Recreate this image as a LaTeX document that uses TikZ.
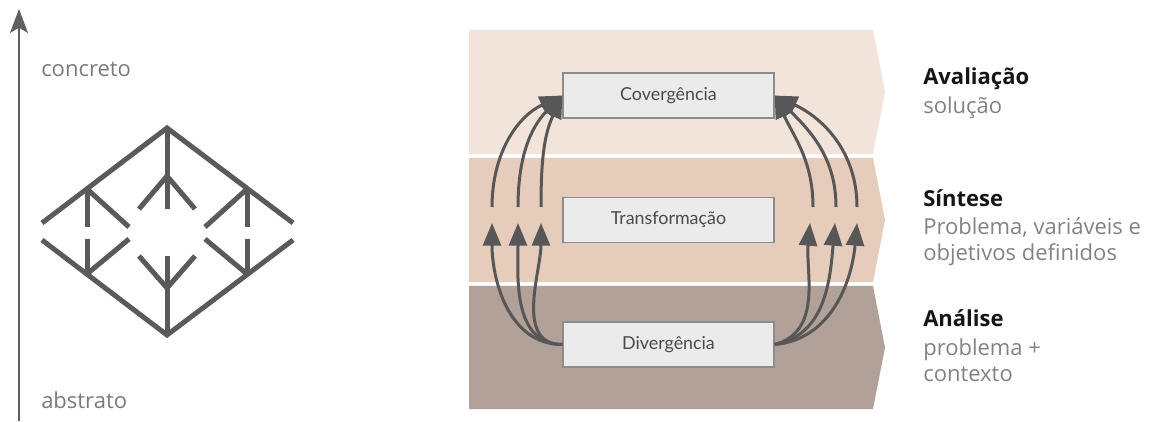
\documentclass[tikz,border=0pt]{standalone}
\usepackage{fontspec}
\setmainfont{Open Sans}
\newfontfamily\boxfont{Lato}
\usetikzlibrary{arrows.meta}

\definecolor{axisgray}{HTML}{606060}
\definecolor{treegray}{HTML}{5A5A5A}
\definecolor{labelgray}{HTML}{7A7A7A}
\definecolor{bandA}{HTML}{F3E4DB}
\definecolor{bandB}{HTML}{E6CDBB}
\definecolor{bandC}{HTML}{B2A199}
\definecolor{boxfill}{HTML}{EBEBEB}
\definecolor{boxline}{HTML}{8C8C8C}
\definecolor{boxtext}{HTML}{4A4A4A}
\definecolor{flowgray}{HTML}{575757}
\definecolor{headtext}{HTML}{151515}
\definecolor{bodytext}{HTML}{828282}

\begin{document}
\begin{tikzpicture}[x=0.75pt,y=0.75pt,
  stagebox/.style={draw=boxline, line width=1pt, fill=boxfill,
    minimum width=158.25pt, minimum height=33.75pt, inner sep=0pt,
    font=\boxfont\fontsize{13.4}{15}\selectfont, text=boxtext},
  flow/.style={draw=flowgray, line width=2.25pt,
    -{Triangle[length=17pt,width=13.5pt]}},
  tree/.style={draw=treegray, line width=3.75pt},
  sidelabel/.style={anchor=base west, inner sep=0pt, text=labelgray,
    font=\fontsize{16.5}{20}\selectfont},
  head/.style={anchor=base west, inner sep=0pt, text=headtext,
    font=\bfseries\fontsize{16.5}{20}\selectfont},
  body/.style={anchor=base west, inner sep=0pt, text=bodytext,
    font=\fontsize{16.5}{20}\selectfont},
]
\useasboundingbox (0,0) rectangle (1151,421);

% ---- vertical scale: abstract -> concrete
\coordinate (axisfoot) at (19,0);
\coordinate (axistop) at (19,412);
\draw[axisgray, line width=1.5pt, -{Stealth[length=18pt,width=13.5pt,inset=4pt]}]
  (axisfoot) -- (axistop);
\node[sidelabel] (conc) at (41,344) {concreto};
\node[sidelabel] (abst) at (41,13) {abstrato};

% ---- diamond of branching trees
\draw[tree] (42,198) -- (167,293) -- (293,198);
\draw[tree] (42,181) -- (167,86) -- (293,181);
% upper half
\draw[tree] (87,232) -- (87,194);
\draw[tree] (87,232) -- (129,194);
\draw[tree] (247,232) -- (247,194);
\draw[tree] (247,232) -- (205,194);
\draw[tree] (167,293) -- (167,212);
\draw[tree] (139,212) -- (167,245) -- (195,212);
% lower half
\draw[tree] (87,147) -- (87,182);
\draw[tree] (87,147) -- (129,182);
\draw[tree] (247,147) -- (247,182);
\draw[tree] (247,147) -- (205,182);
\draw[tree] (167,86) -- (167,165);
\draw[tree] (139,165) -- (167,133) -- (195,165);

% ---- stage bands
\fill[bandA] (469,391) -- (873,391) -- (885,329) -- (873,267) -- (469,267) -- cycle;
\fill[bandB] (469,263) -- (873,263) -- (885,201) -- (873,139) -- (469,139) -- cycle;
\fill[bandC] (469,135) -- (873,135) -- (885,73.5) -- (873,12) -- (469,12) -- cycle;

% ---- stage boxes
\node[stagebox] (cov) at (668.5,325.5) {Covergência};
\node[stagebox] (trans) at (668.5,201) {Transformação};
\node[stagebox] (div) at (668.5,76.5) {Divergência};

% ---- flow ends in the middle band
\coordinate (la1) at (492,198);
\coordinate (la2) at (518,198);
\coordinate (la3) at (541,198);
\coordinate (lb1) at (492,214);
\coordinate (lb2) at (518,214);
\coordinate (lb3) at (541,214);
\coordinate (ra1) at (857,198);
\coordinate (ra2) at (835,198);
\coordinate (ra3) at (810,198);
\coordinate (rb1) at (857,214);
\coordinate (rb2) at (836,214);
\coordinate (rb3) at (813,214);

% divergence -> middle band
\draw[flow] (div.west) to[out=180,in=-90] (la1);
\draw[flow] (div.west) to[out=180,in=-90] (la2);
\draw[flow] (div.west) to[out=180,in=-90] (la3);
\draw[flow] (div.east) to[out=5,in=-95] (ra1);
\draw[flow] (div.east) to[out=10,in=-95] (ra2);
\draw[flow] (div.east) to[out=15,in=-95] (ra3);
% middle band -> convergence
\draw[flow] (lb1) to[out=90,in=205] (cov.west);
\draw[flow] (lb2) to[out=90,in=225] (cov.west);
\draw[flow] (lb3) to[out=90,in=245] (cov.west);
\draw[flow] (rb1) to[out=90,in=-25] (cov.east);
\draw[flow] (rb2) to[out=90,in=-45] (cov.east);
\draw[flow] (rb3) to[out=90,in=-65] (cov.east);

% ---- stage descriptions
\node[head] (aval) at (923,336) {Avaliação};
\node[body] (avalsub) at (923,307) {solução};
\node[head] (sint) at (923,214) {Síntese};
\node[body] (sint1) at (923,186) {Problema, variáveis e};
\node[body] (sint2) at (923,160) {objetivos definidos};
\node[head] (anal) at (923,94) {Análise};
\node[body] (anal1) at (923,66) {problema +};
\node[body] (anal2) at (923,40) {contexto};
\end{tikzpicture}
\end{document}
